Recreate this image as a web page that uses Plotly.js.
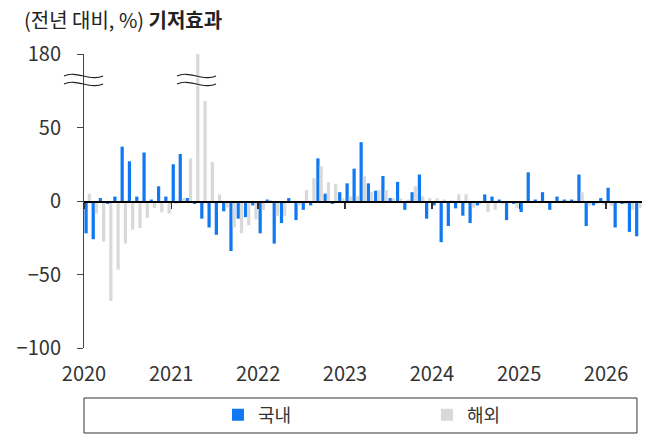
<!DOCTYPE html>
<html><head><meta charset="utf-8">
<script src="https://cdn.plot.ly/plotly-3.0.1.min.js"></script>
<style>html,body{margin:0;padding:0;background:#fff}#chart{width:660px;height:435px}</style>
</head><body><div id="chart"></div>
<script>
const months = [
 '2020-01','2020-02','2020-03','2020-04','2020-05','2020-06','2020-07','2020-08','2020-09','2020-10','2020-11','2020-12',
 '2021-01','2021-02','2021-03','2021-04','2021-05','2021-06','2021-07','2021-08','2021-09','2021-10','2021-11','2021-12',
 '2022-01','2022-02','2022-03','2022-04','2022-05','2022-06','2022-07','2022-08','2022-09','2022-10','2022-11','2022-12',
 '2023-01','2023-02','2023-03','2023-04','2023-05','2023-06','2023-07','2023-08','2023-09','2023-10','2023-11','2023-12',
 '2024-01','2024-02','2024-03','2024-04','2024-05','2024-06','2024-07','2024-08','2024-09','2024-10','2024-11','2024-12',
 '2025-01','2025-02','2025-03','2025-04','2025-05','2025-06','2025-07','2025-08','2025-09','2025-10','2025-11','2025-12',
 '2026-01','2026-02','2026-03','2026-04','2026-05'
];
const domestic = [
 -22, -26, 2, -2, 3, 37, 27, 3, 33, 1, 10, 3,
 25, 32, 2, -2, -12, -18, -23, -7, -34, -12, -11, -3,
 -22, 1, -29, -15, 2, -13, -6, -3, 29, 5, -2, 6,
 12, 22, 40, 12, 7, 17, 2, 13, -6, 6, 18, -12,
 -3, -28, -17, -5, -10, -15, -3, 4.5, 3, 1, -13, -2,
 -7.5, 19.5, 1, 6, -6, 3, 1, 1, 18, -17, -3, 2,
 9, -18, -2, -21, -24
];
const overseas = [
 5, -8.6, -27.7, -68, -46.7, -29, -19.5, -18.4, -11.6, -4.8, -7.7, -8.6,
 -2, 2, 29, 180, 68, 26.5, 4.5, -4.5, -18, -22, -16.5, -12.5,
 -6, 0.7, -10, -10, -1.4, -3, 7.5, 15.5, 23.6, 12.8, 11.6, 1.8,
 3.2, 3.2, 16.8, 6, 7.3, 7.3, 2, 1.8, 1, 10, 3.2, 2,
 1.8, 1, 0.5, 4.5, 4.5, -4.5, -2, -7.5, -5.9, -2, -0.5, -4.8,
 -1, -1.5, -1, -1, -0.8, 0.5, 0.5, 0.5, 5.9, -3.2, -2, -2.5,
 -3.2, -1, -2.3, -5.9, -4.8
];
const seriesNames = ['국내', '해외'];
const yearTicks = ['2020-01-01','2021-01-01','2022-01-01','2023-01-01','2024-01-01','2025-01-01','2026-01-01'];
const yearLabels = ['2020','2021','2022','2023','2024','2025','2026'];
const yTickVals = [-100, -50, 0, 50, 100];
const yTickText = ['−100', '−50', '0', '50', '180'];

const FONT = '"Noto Sans CJK KR", "Noto Sans", sans-serif';
const M = {l: 84, r: 18, t: 54, b: 87, autoexpand: false};
const PW = 660 - M.l - M.r, PH = 435 - M.t - M.b;
const X = px => +((px - M.l) / PW).toFixed(4);
const Y = py => +((M.t + PH - py) / PH).toFixed(4);
function wave(x0, x1, yc, a) {
  const w = x1 - x0;
  return `M ${X(x0)},${Y(yc)} C ${X(x0 + w*0.3)},${Y(yc - 2*a)} ${X(x0 + w*0.7)},${Y(yc + 2*a)} ${X(x1)},${Y(yc)}`;
}
const breakShapes = [];
[[64, 103], [177, 216]].forEach(([a, b]) => {
  [76, 84].forEach(yc => breakShapes.push({
    type: 'path', xref: 'paper', yref: 'paper', path: wave(a, b, yc, 3),
    line: {color: '#222', width: 1.2}, layer: 'above'
  }));
});

const range = ['2020-01-01', '2026-06-01'];
const traces = [
  {type: 'bar', name: seriesNames[0], x: months, y: domestic, xperiod: 'M1', xperiodalignment: 'middle',
   marker: {color: '#0f78f2'}, hoverinfo: 'x+y'},
  {type: 'bar', name: seriesNames[1], x: months, y: overseas, xperiod: 'M1', xperiodalignment: 'middle',
   marker: {color: '#d9d9d9'}, hoverinfo: 'x+y'},
  {type: 'scatter', mode: 'markers', x: months, y: months.map(() => null), xaxis: 'x2', showlegend: false, hoverinfo: 'skip'}
];

const layout = {
  width: 660, height: 435, margin: M,
  paper_bgcolor: '#fff', plot_bgcolor: '#fff',
  font: {family: FONT, color: '#333', size: 17},
  title: {text: '(전년 대비, %) <b>기저효과</b>', x: 24/660, xanchor: 'left', xref: 'container',
          y: 1 - 21/435, yanchor: 'middle', yref: 'container', font: {family: FONT, size: 20, color: '#222'}},
  barmode: 'group', bargap: 0.08, bargroupgap: 0,
  showlegend: true,
  legend: {orientation: 'h', x: X(218), xanchor: 'left', y: Y(415), yanchor: 'middle',
           font: {family: FONT, size: 18, color: '#333'}, entrywidth: 164, entrywidthmode: 'pixels',
           bgcolor: 'rgba(0,0,0,0)', traceorder: 'normal'},
  xaxis: {type: 'date', range: range, anchor: 'free', position: 0.5, showgrid: false, zeroline: false,
          showline: true, linecolor: '#000', linewidth: 1.5, ticks: 'outside', ticklen: 6, tickwidth: 1.2,
          tickcolor: '#333', tickvals: yearTicks, showticklabels: false},
  xaxis2: {type: 'date', range: range, overlaying: 'x', anchor: 'y', side: 'bottom', showgrid: false,
           zeroline: false, showline: false, ticks: '', tickvals: yearTicks, ticktext: yearLabels,
           tickfont: {family: FONT, size: 20, color: '#333'}, ticklabelstandoff: 12},
  yaxis: {range: [-100, 100], tickvals: yTickVals, ticktext: yTickText, showgrid: false, zeroline: false,
          showline: true, linecolor: '#444', linewidth: 1, ticks: 'outside', ticklen: 6, tickcolor: '#444',
          tickfont: {family: FONT, size: 20, color: '#333'}, ticklabelstandoff: 12},
  shapes: breakShapes.concat([
    {type: 'rect', xref: 'paper', yref: 'paper', x0: 0, x1: X(637), y0: Y(433), y1: Y(398),
     line: {color: '#333', width: 1}, fillcolor: 'rgba(0,0,0,0)', layer: 'above'}
  ])
};
Plotly.newPlot('chart', traces, layout, {displayModeBar: false, staticPlot: true});
</script></body></html>
